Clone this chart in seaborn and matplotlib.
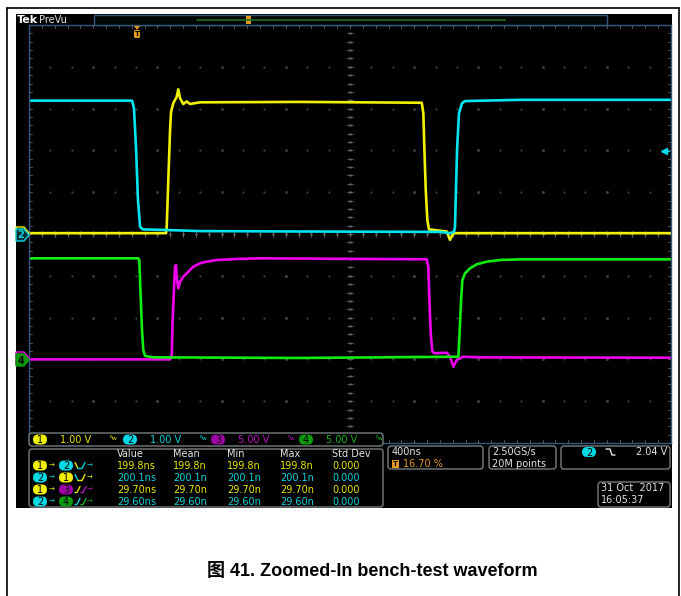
import numpy as np
import pandas as pd
import matplotlib.pyplot as plt
import seaborn as sns
from matplotlib.patches import Rectangle, FancyBboxPatch, Polygon

sns.set_theme(style="white")
plt.rcParams['font.family'] = ['DejaVu Sans', 'Noto Sans CJK SC']

# ── DATA (time in ns after trigger, volts) ─────────────────
ch1_t = [-668, 186, 190, 200, 211, 217, 231, 252, 262, 273, 293, 315, 335, 398, 1021,
         1779, 1789, 1795, 1804, 1814, 1824, 1935, 1955, 1976, 3332]
ch1_v = [0.02, 0.02, 0.17, 1.29, 2.49, 2.92, 3.13, 3.28, 3.46, 3.25, 3.11, 3.17, 3.11, 3.15, 3.16,
         3.14, 2.89, 2.09, 1.05, 0.33, 0.11, 0.06, -0.14, 0.02, 0.02]

ch2_t = [-668, -26, -14, -1, 11, 24, 42, 148, 398, 1021, 1893, 1955, 1980, 1986, 1999,
         2011, 2030, 2049, 2391, 3332]
ch2_v = [3.19, 3.19, 3.01, 2.05, 0.81, 0.17, 0.11, 0.10, 0.07, 0.06, 0.05, 0.02, 0.05, 0.17, 2.01,
         2.89, 3.13, 3.18, 3.21, 3.21]

ch3_t = [-668, 211, 221, 227, 236, 242, 248, 252, 262, 273, 293, 325, 356, 398, 439, 502, 626, 771,
         1810, 1820, 1826, 1835, 1845, 1862, 1935, 1955, 1976, 1997, 2038, 2142, 3332]
ch3_v = [0.0, 0.0, 0.32, 4.71, 8.70, 11.09, 11.29, 9.89, 8.50, 9.29, 9.89, 10.49, 11.09, 11.50, 11.69,
         11.89, 12.01, 12.09, 11.97, 11.09, 7.50, 3.12, 0.92, 0.73, 0.80, 0.32, -0.87, -0.07, 0.32,
         0.25, 0.20]

ch4_t = [-668, 13, 19, 28, 36, 44, 55, 107, 1021, 2007, 2013, 2022, 2032, 2049, 2080, 2122, 2184,
         2268, 2392, 3332]
ch4_v = [12.09, 12.09, 11.89, 7.50, 3.52, 1.12, 0.41, 0.25, 0.17, 0.32, 2.32, 6.30, 9.50, 10.30,
         10.90, 11.38, 11.69, 11.89, 11.97, 11.97]

channels   = ["1", "2", "3", "4"]
volts_div  = [1.0, 1.0, 5.0, 5.0]
offset_div = [0, 0, -3, -3]
T_DIV      = 400      # ns/div
TRIG_POS   = 0.167    # trigger position, fraction of record

meas_cols = ["Value", "Mean", "Min", "Max", "Std Dev"]
meas_pairs = [("1", "2", "fr"), ("2", "1", "fr"), ("1", "3", "rr"), ("2", "4", "rr")]
meas_vals = [["199.8ns", "199.8n", "199.8n", "199.8n", "0.000"],
             ["200.1ns", "200.1n", "200.1n", "200.1n", "0.000"],
             ["29.70ns", "29.70n", "29.70n", "29.70n", "0.000"],
             ["29.60ns", "29.60n", "29.60n", "29.60n", "0.000"]]

trace_col = {"1": "#f2f200", "2": "#00e6f0", "3": "#f000f0", "4": "#10ee10"}
pill_col  = {"1": "#f0f000", "2": "#00d8e4", "3": "#a000a8", "4": "#089a08"}
text_col  = {"1": "#e6e600", "2": "#00d4de", "3": "#b010b8", "4": "#18b018"}

# ── LONG TABLE IN DIVISIONS ────────────────────────────────
frames = []
for ch, t, v, vd, off in zip(channels, [ch1_t, ch2_t, ch3_t, ch4_t],
                             [ch1_v, ch2_v, ch3_v, ch4_v], volts_div, offset_div):
    d = pd.DataFrame({"t": t, "v": v})
    d["x"] = d["t"] / T_DIV - 5 + 10 * TRIG_POS
    d["y"] = d["v"] / vd + off
    d["ch"] = ch
    frames.append(d)
df = pd.concat(frames, ignore_index=True)

# ── FIGURE ─────────────────────────────────────────────────
W, H = 681, 596
fig = plt.figure(figsize=(W / 100, H / 100), dpi=100, facecolor="white")

def px_axes(z):
    a = fig.add_axes([0, 0, 1, 1], zorder=z)
    a.set_xlim(0, W); a.set_ylim(H, 0)
    a.axis("off"); a.patch.set_visible(False)
    return a

bg = px_axes(0)
bg.plot([7, 7], [8, H], color="black", lw=1.2)
bg.plot([679, 679], [8, H], color="black", lw=1.2)
bg.plot([7, 679], [8, 8], color="black", lw=1.2)
bg.add_patch(Rectangle((16, 14), 656, 494, facecolor="black", edgecolor="none"))

# grid axes: 10 x 10 divisions
GL, GR, GT, GB = 29, 671, 25, 443
ax = fig.add_axes([GL / W, 1 - GB / H, (GR - GL) / W, (GB - GT) / H], zorder=1)
ax.set_facecolor("black")
ax.set_xlim(-5, 5); ax.set_ylim(-5, 5)
ax.set_xticks([]); ax.set_yticks([])
for s in ax.spines.values():
    s.set_color("#36597e"); s.set_linewidth(1.0)

fine = np.arange(-5, 5.01, 0.2)
third = np.arange(-5, 5.01, 1 / 3)
for k in range(-4, 5):
    if k == 0:
        continue
    ax.plot(third, np.full_like(third, k), ls="none", marker="s", ms=0.6, color="#3a3a3a")
    ax.plot(np.full(11, k), np.arange(-5, 6), ls="none", marker="s", ms=0.8, color="#4a4a4a")
# centre cross and edge ticks
ax.plot(np.zeros_like(fine), fine, ls="none", marker="s", ms=0.8, color="#5a5a5a")
ax.plot(fine, np.zeros_like(fine), ls="none", marker="s", ms=0.8, color="#5a5a5a")
for p in fine:
    ax.plot([p, p], [5, 4.92], color="#666666", lw=0.6)
    ax.plot([p, p], [-5, -4.92], color="#666666", lw=0.6)
    ax.plot([p, p], [-0.06, 0.06], color="#666666", lw=0.6)
    ax.plot([-5, -4.95], [p, p], color="#666666", lw=0.6)
    ax.plot([5, 4.95], [p, p], color="#666666", lw=0.6)
    ax.plot([-0.04, 0.04], [p, p], color="#666666", lw=0.6)

sns.lineplot(data=df, x="x", y="y", hue="ch", hue_order=channels, palette=trace_col,
             estimator=None, sort=False, lw=1.9, legend=False, ax=ax)
ax.set_xlabel(""); ax.set_ylabel("")

# ── SCOPE DECORATIONS ──────────────────────────────────────
ov = px_axes(3)
fs = 7
white = "#e4e4e4"
orange = "#e39a20"

ov.text(17, 20, "Tek", color="white", fontsize=8, weight="bold", va="center")
ov.text(39, 20, "PreVu", color=white, fontsize=7, va="center")
ov.add_patch(Rectangle((94, 15), 513, 10, facecolor="#030806", edgecolor="#36597e", lw=1))
ov.plot([197, 505], [20, 20], color="#1f6e1f", lw=1.2)
ov.add_patch(Rectangle((245.5, 16), 5, 8, facecolor=orange, edgecolor="none"))
ov.add_patch(Polygon([[134, 26], [140, 26], [137, 30]], facecolor=orange, edgecolor="none"))
ov.add_patch(FancyBboxPatch((134, 30), 6, 8, boxstyle="round,pad=0,rounding_size=1.5",
                            facecolor=orange, edgecolor="none"))
ov.text(137, 34, "T", color="black", fontsize=5, ha="center", va="center", weight="bold")

# channel ground markers
def gnd_marker(y, fc, ec, tc, label):
    pts = [[16, y - 6], [24, y - 6], [29, y], [24, y + 6], [16, y + 6]]
    ov.add_patch(Polygon(pts, facecolor=fc, edgecolor=ec, lw=1))
    ov.text(21, y + 0.5, label, color=tc, fontsize=7, ha="center", va="center", weight="bold")

gnd_marker(233, "#000000", trace_col["1"], trace_col["1"], "")
gnd_marker(235, "#06303a", pill_col["2"], pill_col["2"], "2")
gnd_marker(358, "#000000", trace_col["3"], trace_col["3"], "")
gnd_marker(360, pill_col["4"], pill_col["4"], "black", "4")

# trigger level arrow
ov.plot([664, 669], [151, 151], color=pill_col["2"], lw=1)
ov.plot([664], [151], marker="<", ms=4, color=pill_col["2"])

def pill(cx, cy, label, ch, w=14, h=10):
    ov.add_patch(FancyBboxPatch((cx - w / 2, cy - h / 2), w, h,
                                boxstyle="round,pad=0,rounding_size=%g" % (h / 2),
                                facecolor=pill_col[ch], edgecolor="none"))
    ov.text(cx, cy + 0.5, label, color="black", fontsize=7, ha="center", va="center")

def rbox(x0, y0, x1, y1):
    ov.add_patch(FancyBboxPatch((x0, y0), x1 - x0, y1 - y0,
                                boxstyle="round,pad=0,rounding_size=3",
                                facecolor="black", edgecolor="#767f7f", lw=1))

# channel scale bar
rbox(29, 433, 383, 446)
for cx, ch, txt in [(40, "1", "1.00 V"), (130, "2", "1.00 V"), (218, "3", "5.00 V"), (306, "4", "5.00 V")]:
    pill(cx, 439.5, ch, ch)
    ov.text(cx + 20, 440, txt, color=text_col[ch], fontsize=fs, va="center")
    ov.text(cx + 70, 439, "ᴮw", color=text_col[ch], fontsize=4.5, va="center")

# measurement table
rbox(29, 449, 383, 507)
col_x = [117, 173, 227, 280, 332]
for cx, name in zip(col_x, meas_cols):
    ov.text(cx, 454, name, color=white, fontsize=fs, va="center")

def edge_icon(x, y, kind, c1, c2):
    if kind == "fr":
        ov.plot([x, x + 3], [y - 3, y + 3], color=c1, lw=1)
        ov.plot([x + 3, x + 7, x + 10], [y + 3, y + 3, y - 3], color=c2, lw=1)
    else:
        ov.plot([x, x + 2, x + 5], [y + 3, y + 3, y - 3], color=c1, lw=1)
        ov.plot([x + 6, x + 8, x + 11], [y + 3, y + 3, y - 3], color=c2, lw=1)
    ov.text(x + 12, y, "→", color=c2, fontsize=5, va="center")

for i, ((a, b, kind), vals) in enumerate(zip(meas_pairs, meas_vals)):
    y = 465.5 + i * 12
    pill(40, y, a, a)
    ov.text(49, y, "→", color=text_col[a], fontsize=5, va="center")
    pill(66, y, b, b)
    edge_icon(75, y, kind, text_col[a], text_col[b])
    for cx, v in zip(col_x, vals):
        ov.text(cx, y + 0.5, v, color=text_col[a], fontsize=fs, va="center")

# timebase / sample / trigger / date
rbox(388, 446, 483, 469)
ov.text(392, 452, "400ns", color=white, fontsize=fs, va="center")
ov.add_patch(Rectangle((392, 460), 7, 8, facecolor=orange, edgecolor="none"))
ov.text(395.5, 464.5, "T", color="black", fontsize=5, ha="center", va="center", weight="bold")
ov.text(403, 464, "16.70 %", color=orange, fontsize=fs, va="center")

rbox(489, 446, 556, 469)
ov.text(492, 452, "2.50GS/s", color=white, fontsize=fs, va="center")
ov.text(492, 464, "20M points", color=white, fontsize=fs, va="center")

rbox(561, 446, 670, 469)
pill(589, 452, "2", "2")
ov.plot([606, 610, 612, 615], [449, 449, 455, 455], color=white, lw=1)
ov.text(667, 452, "2.04 V", color=white, fontsize=fs, va="center", ha="right")

rbox(598, 482, 670, 507)
ov.text(601, 488, "31 Oct  2017", color=white, fontsize=fs, va="center")
ov.text(601, 500, "16:05:37", color=white, fontsize=fs, va="center")

# caption
fig.text(372 / W, 1 - 572 / H, "图 41. Zoomed-In bench-test waveform", fontsize=13,
         weight="bold", ha="center", va="center", color="black",
         family=["Liberation Sans", "Noto Sans CJK SC"])

fig.savefig("out.png", dpi=100, facecolor="white")
